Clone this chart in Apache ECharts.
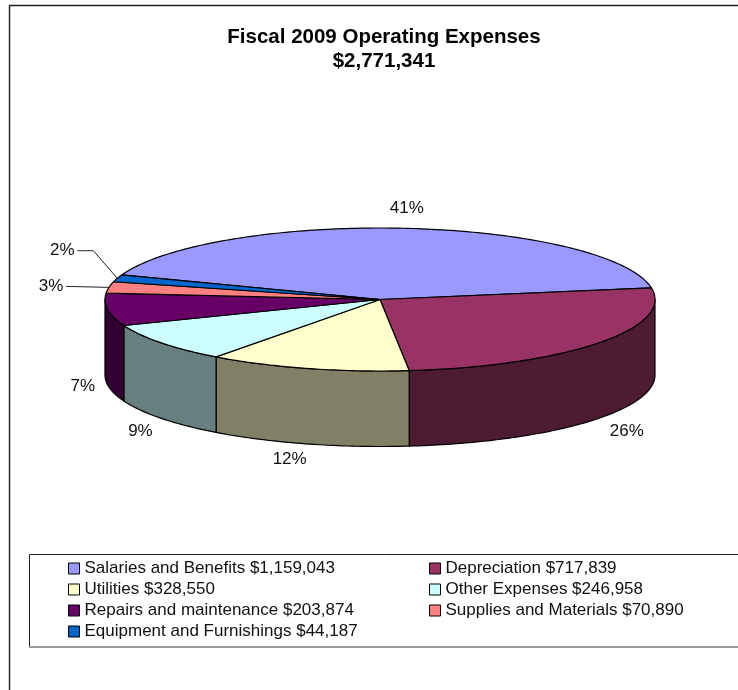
<!DOCTYPE html>
<html>
<head>
<meta charset="utf-8">
<script src="https://cdn.jsdelivr.net/npm/echarts@6/dist/echarts.min.js"></script>
<style>html,body{margin:0;padding:0;background:#fff}#chart{width:738px;height:690px}</style>
</head>
<body>
<div id="chart"></div>
<script>
// Expense categories and their dollar amounts
const categories = ['Salaries and Benefits', 'Depreciation', 'Utilities', 'Other Expenses',
  'Repairs and maintenance', 'Supplies and Materials', 'Equipment and Furnishings'];
const amounts = [1159043, 717839, 328550, 246958, 203874, 70890, 44187];
const amountLabels = ['$1,159,043', '$717,839', '$328,550', '$246,958', '$203,874', '$70,890', '$44,187'];
const percentLabels = ['41%', '26%', '12%', '9%', '7%', '3%', '2%'];

// Face colours and the darker shade of the outer wall
const topColors = ['#9999FF', '#993366', '#FFFFCC', '#CCFFFF', '#660066', '#FF8080', '#0066CC'];
const wallColors = ['#4D4D80', '#4D1C33', '#808066', '#668080', '#330033', '#804040', '#003366'];

// Offset of each percentage from its slice's rim point
const labelOffsets = [[1, -20], [28, 13], [-18, 15], [-21, 13], [-25, 1], [-58, -1], [-55, -27.6]];
// Slices whose label is tied to the rim by a leader line; elbow is the x-distance of the bend
const leaderElbows = { 5: 0, 6: 31 };

// Tilted pie geometry
const CX = 380, CY = 299.5, RX = 275, RY = 71.5, DEPTH = 75.5;
const START_DEG = 159.9;
const FONT = '"Liberation Sans", Arial, sans-serif';

const total = amounts.reduce((a, b) => a + b, 0);
const rad = d => d * Math.PI / 180;
const rim = (deg, drop) => [CX + RX * Math.cos(rad(deg)), CY - RY * Math.sin(rad(deg)) + (drop || 0)];

// Clockwise angular extent of every slice, derived from its amount
let cursor = START_DEG;
const spans = amounts.map(v => {
  const from = cursor;
  cursor -= v / total * 360;
  return [from, cursor];
});

function arc(from, to, drop) {
  const pts = [];
  const n = Math.max(2, Math.ceil(Math.abs(from - to)));
  for (let i = 0; i <= n; i++) pts.push(rim(from + (to - from) * i / n, drop));
  return pts;
}

// Top face plus, for the part of the rim facing the viewer, the outer wall
function renderSlice(index) {
  const [from, to] = spans[index];
  const mid = (from + to) / 2;
  const children = [];
  const stroke = { stroke: '#000', lineWidth: 1.2, lineJoin: 'round' };

  const wallFrom = Math.min(from, 0), wallTo = Math.max(to, -180);
  if (wallFrom > wallTo) {
    const points = arc(wallFrom, wallTo, 0).concat(arc(wallTo, wallFrom, DEPTH));
    children.push({ type: 'polygon', shape: { points }, style: { fill: wallColors[index], ...stroke } });
  }
  children.push({
    type: 'polygon',
    shape: { points: [[CX, CY]].concat(arc(from, to, 0)) },
    style: { fill: topColors[index], ...stroke }
  });

  const facing = Math.sin(rad(mid)) < -0.05;
  const anchor = rim(mid, facing ? DEPTH : 0);
  const lx = anchor[0] + labelOffsets[index][0];
  const ly = anchor[1] + labelOffsets[index][1];
  children.push({
    type: 'text', z2: 20,
    style: { x: lx, y: ly, text: percentLabels[index], fill: '#111', align: 'center', verticalAlign: 'middle',
      font: '17px ' + FONT }
  });

  if (index in leaderElbows) {
    const startX = lx + 15;
    const elbow = leaderElbows[index];
    const points = elbow ? [[startX, ly], [lx + elbow, ly], anchor] : [[startX, ly], anchor];
    children.push({
      type: 'polyline', z2: 20, shape: { points },
      style: { stroke: '#222', lineWidth: 1, fill: null }
    });
  }
  return { type: 'group', children };
}

const legendNames = categories.map((c, i) => c + ' ' + amountLabels[i]);
const legendBase = {
  orient: 'vertical', selectedMode: false, padding: 0, icon: 'rect',
  itemWidth: 11, itemHeight: 11, itemGap: 4,
  itemStyle: { borderColor: '#000', borderWidth: 1 },
  textStyle: { fontFamily: FONT, fontSize: 17, color: '#111' }
};

const chart = echarts.init(document.getElementById('chart'), null, { renderer: 'canvas' });
chart.setOption({
  animation: false,
  backgroundColor: '#fff',
  title: {
    text: 'Fiscal 2009 Operating Expenses\n$2,771,341',
    left: 384, top: 25, textAlign: 'center', padding: 0,
    textStyle: { fontFamily: FONT, fontSize: 20.5, fontWeight: 'bold', color: '#000', lineHeight: 24 }
  },
  legend: [
    { ...legendBase, left: 68, top: 560, data: legendNames.filter((_, i) => i % 2 === 0) },
    { ...legendBase, left: 429, top: 560, data: legendNames.filter((_, i) => i % 2 === 1) }
  ],
  graphic: [
    { type: 'polyline', silent: true, shape: { points: [[9.5, 700], [9.5, 5.5], [745, 5.5]] },
      style: { stroke: '#222', lineWidth: 1.4, fill: null } },
    { type: 'polyline', silent: true, shape: { points: [[745, 554.5], [29.5, 554.5], [29.5, 646.5]] },
      style: { stroke: '#222', lineWidth: 1, fill: null } },
    { type: 'line', silent: true, shape: { x1: 29, y1: 647, x2: 745, y2: 647 },
      style: { stroke: '#777', lineWidth: 1.6 } }
  ],
  series: categories.map((c, i) => ({
    type: 'custom',
    name: legendNames[i],
    coordinateSystem: 'none',
    silent: true,
    z: 2 + i,
    itemStyle: { color: topColors[i] },
    data: [amounts[i]],
    renderItem: () => renderSlice(i)
  }))
});
</script>
</body>
</html>
